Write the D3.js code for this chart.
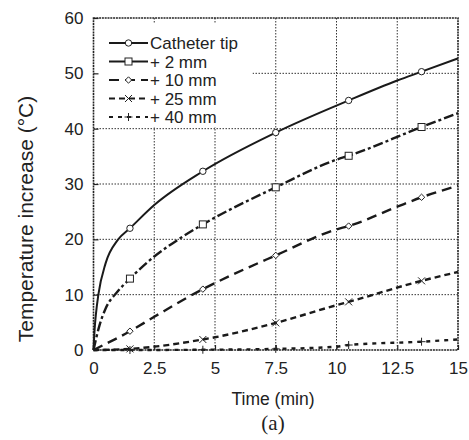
<!DOCTYPE html>
<html lang="en">
<head>
  <meta charset="UTF-8">
  <title>Temperature increase</title>
  <script src="https://d3js.org/d3.v7.min.js"></script>
  <style>
    body { margin: 0; background: #fff; }
    svg text { font-family: Arial, "Liberation Sans", sans-serif; fill: #222; }
    .tick-label { font-size: 17px; }
  </style>
</head>
<body>
  <div id="chart"></div>
  <script>
    // data (time in min, temperature increase in °C)
    const seriesNames = ["Catheter tip", "+ 2 mm", "+ 10 mm", "+ 25 mm", "+ 40 mm"];
    const tipT   = [0, 0.05, 0.1, 0.2, 0.5, 1, 1.5, 2.5, 4.5, 7.5, 10.5, 12.5, 13.5, 15];
    const tipV   = [0, 4, 6.5, 10, 15.7, 19.9, 22, 26.2, 32.3, 39.3, 45.1, 48.7, 50.3, 52.7];
    const mm2T   = [0, 0.25, 0.5, 1, 1.5, 2.5, 3.5, 4.5, 7.5, 10, 10.5, 13.5, 15];
    const mm2V   = [0, 4.5, 7.5, 10.6, 12.9, 16.9, 20, 22.7, 29.4, 34.4, 35.1, 40.3, 42.8];
    const mm10T  = [0, 0.5, 1, 1.5, 2.5, 4.5, 5, 7.5, 10, 10.5, 12.5, 13.5, 15];
    const mm10V  = [0, 1.1, 2.2, 3.4, 6.0, 11, 12.1, 17.1, 21.8, 22.4, 25.9, 27.6, 29.7];
    const mm25T  = [0, 1.5, 2.5, 4.5, 5, 7.5, 10, 10.5, 13.5, 15];
    const mm25V  = [0, 0.2, 0.6, 1.9, 2.3, 4.9, 8.1, 8.7, 12.5, 14.1];
    const mm40T  = [0, 1.5, 4.5, 7.5, 10, 10.5, 13.5, 15];
    const mm40V  = [0, 0, 0.05, 0.2, 0.6, 0.9, 1.5, 1.9];
    const markerTimes = [1.5, 4.5, 7.5, 10.5, 13.5];
    const xTicks = [0, 2.5, 5, 7.5, 10, 12.5, 15];
    const yTicks = [0, 10, 20, 30, 40, 50, 60];

    const seriesT = [tipT, mm2T, mm10T, mm25T, mm40T];
    const seriesV = [tipV, mm2V, mm10V, mm25V, mm40V];
    const dashes = [null, "10,3,3,3", "10,6", "6,4", "4,5"];
    const symbols = ["circle", "square", "diamond", "cross", "plus"];

    const W = 469, H = 440;
    const plotL = 93.5, plotR = 458, plotT = 18, plotB = 350;

    const svg = d3.select("#chart").append("svg")
      .attr("width", W).attr("height", H);

    const x = d3.scaleLinear().domain([0, 15]).range([plotL, plotR]);
    const y = d3.scaleLinear().domain([0, 60]).range([plotB, plotT]);

    // grid
    svg.append("g").selectAll("line")
      .data(xTicks.slice(1, -1)).enter().append("line")
      .attr("x1", d => x(d)).attr("x2", d => x(d))
      .attr("y1", plotT).attr("y2", plotB)
      .attr("stroke", "#333").attr("stroke-width", 1).attr("stroke-dasharray", "1.5,1.5");
    svg.append("g").selectAll("line")
      .data(yTicks.slice(1, -1)).enter().append("line")
      .attr("y1", d => y(d)).attr("y2", d => y(d))
      .attr("x1", plotL).attr("x2", plotR)
      .attr("stroke", "#333").attr("stroke-width", 1).attr("stroke-dasharray", "1.5,1.5");

    // legend background covers grid
    svg.append("rect")
      .attr("x", plotL + 1).attr("y", plotT + 5)
      .attr("width", 158).attr("height", 104)
      .attr("fill", "#fff");

    // axes
    const xAxis = svg.append("g")
      .attr("transform", `translate(0,${plotB})`)
      .call(d3.axisBottom(x).tickValues(xTicks).tickSize(-5).tickPadding(12).tickFormat(d3.format("")));
    const yAxis = svg.append("g")
      .attr("transform", `translate(${plotL},0)`)
      .call(d3.axisLeft(y).tickValues(yTicks).tickSize(-5).tickPadding(10).tickFormat(d3.format("d")));
    [xAxis, yAxis].forEach(a => {
      a.select(".domain").remove();
      a.selectAll(".tick line").attr("stroke", "#222").attr("stroke-width", 1.2);
      a.selectAll(".tick text").attr("class", "tick-label").attr("fill", "#222");
    });

    // frame
    svg.append("rect")
      .attr("x", plotL).attr("y", plotT)
      .attr("width", plotR - plotL).attr("height", plotB - plotT)
      .attr("fill", "none").attr("stroke", "#222").attr("stroke-width", 1.6)
      .attr("stroke-dasharray", "2,0.8");

    const line = d3.line()
      .x(d => x(d[0])).y(d => y(d[1]))
      .curve(d3.curveMonotoneX);

    function drawMarker(g, kind, cx, cy) {
      if (kind === "circle") {
        g.append("circle").attr("cx", cx).attr("cy", cy).attr("r", 3.2)
          .attr("fill", "#fff").attr("stroke", "#222").attr("stroke-width", 1);
      } else if (kind === "square") {
        g.append("rect").attr("x", cx - 3.5).attr("y", cy - 3.5).attr("width", 7).attr("height", 7)
          .attr("fill", "#fff").attr("stroke", "#222").attr("stroke-width", 1);
      } else if (kind === "diamond") {
        g.append("path").attr("d", `M${cx},${cy - 3.2}L${cx + 3.2},${cy}L${cx},${cy + 3.2}L${cx - 3.2},${cy}Z`)
          .attr("fill", "#fff").attr("stroke", "#222").attr("stroke-width", 1);
      } else if (kind === "cross") {
        g.append("path").attr("d", `M${cx - 3.5},${cy - 3.5}L${cx + 3.5},${cy + 3.5}M${cx - 3.5},${cy + 3.5}L${cx + 3.5},${cy - 3.5}`)
          .attr("stroke", "#222").attr("stroke-width", 1);
      } else {
        g.append("path").attr("d", `M${cx - 4},${cy}L${cx + 4},${cy}M${cx},${cy - 4}L${cx},${cy + 4}`)
          .attr("stroke", "#222").attr("stroke-width", 1);
      }
    }

    // series
    seriesNames.forEach((name, i) => {
      const pts = seriesT[i].map((t, j) => [t, seriesV[i][j]]);
      const g = svg.append("g");
      g.append("path")
        .datum(pts)
        .attr("d", line)
        .attr("fill", "none")
        .attr("stroke", "#1a1a1a")
        .attr("stroke-width", i === 0 ? 2 : 2.4)
        .attr("stroke-dasharray", dashes[i]);
      markerTimes.forEach(t => {
        const j = seriesT[i].indexOf(t);
        drawMarker(g, symbols[i], x(t), y(seriesV[i][j]));
      });
    });

    // legend
    const legend = svg.append("g");
    seriesNames.forEach((name, i) => {
      const ly = 43 + i * 18.5;
      legend.append("line")
        .attr("x1", 109).attr("x2", 148).attr("y1", ly).attr("y2", ly)
        .attr("stroke", "#1a1a1a").attr("stroke-width", i === 0 ? 2 : 2.2)
        .attr("stroke-dasharray", i === 1 ? null : dashes[i]);
      drawMarker(legend, symbols[i], 128.5, ly);
      legend.append("text")
        .attr("x", 150).attr("y", ly + 6)
        .attr("font-size", "17px")
        .text(name);
    });

    // axis titles
    svg.append("text")
      .attr("x", 273).attr("y", 405)
      .attr("text-anchor", "middle")
      .attr("font-size", "17.5px")
      .text("Time (min)");

    svg.append("text")
      .attr("transform", `translate(33,${(83 + 355) / 2}) rotate(-90)`)
      .attr("text-anchor", "middle")
      .attr("font-size", "21px")
      .text("Temperature increase (°C)");

    svg.append("text")
      .attr("x", 273).attr("y", 430)
      .attr("text-anchor", "middle")
      .attr("font-size", "21px")
      .style("font-family", "'Liberation Serif', 'Times New Roman', serif")
      .text("(a)");
  </script>
</body>
</html>
